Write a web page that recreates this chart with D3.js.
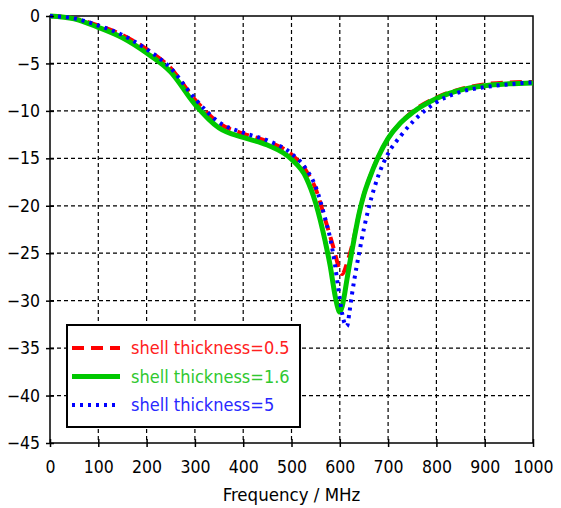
<!DOCTYPE html>
<html>
<head>
<meta charset="utf-8">
<script src="https://cdn.jsdelivr.net/npm/d3@7"></script>
<style>
  body { margin: 0; background: #fff; }
  text { font-family: "DejaVu Sans Condensed", "DejaVu Sans", sans-serif; }
</style>
</head>
<body>
<div id="chart"></div>
<script>
const freq = [0, 50, 100, 150, 200, 250, 300, 350, 400, 450, 500, 530, 550, 570, 580, 590, 595, 600, 605, 610, 615, 620, 625, 630, 640, 650, 660, 680, 700, 725, 750, 800, 850, 900, 950, 1000]
const thick05 = [0, -0.25, -1.0, -2.0, -3.5, -5.5, -8.8, -11.3, -12.4, -13.2, -14.6, -16.3, -18.2, -21.5, -23.2, -25.0, -26.0, -26.9, -27.2, -26.8, -26.0, -25.2, -24.3, -23.2, -20.8, -18.8, -17.3, -14.8, -12.9, -11.3, -10.1, -8.6, -7.7, -7.2, -7.0, -6.95]
const thick16 = [0, -0.3, -1.2, -2.3, -3.9, -5.9, -9.3, -11.8, -12.8, -13.6, -15.1, -17.0, -19.7, -23.8, -26.3, -29.4, -30.6, -31.2, -30.6, -29.3, -27.7, -26.2, -24.8, -23.4, -20.8, -18.8, -17.3, -14.8, -12.9, -11.3, -10.2, -8.7, -7.8, -7.35, -7.15, -7.05]
const thick5 = [0, -0.25, -1.0, -2.0, -3.5, -5.5, -8.7, -11.2, -12.3, -13.1, -14.5, -16.1, -18.0, -21.4, -23.4, -26.2, -28.0, -29.8, -31.4, -32.4, -32.7, -31.2, -29.4, -27.8, -25.0, -22.4, -20.2, -16.8, -14.5, -12.7, -11.2, -9.1, -8.0, -7.5, -7.2, -7.0]
const xTicks = [0, 100, 200, 300, 400, 500, 600, 700, 800, 900, 1000]
const yTicks = [0, -5, -10, -15, -20, -25, -30, -35, -40, -45]
const seriesNames = ['shell thickness=0.5', 'shell thickness=1.6', 'shell thickness=5']

const width = 561
const height = 508
const plotLeft = 50, plotRight = 533, plotTop = 16, plotBottom = 443

const series = [
  { name: seriesNames[0], values: thick05, color: '#ff0000', text: '#ff2020', w: 4, dash: '12,7' },
  { name: seriesNames[1], values: thick16, color: '#00c800', text: '#30c830', w: 5, dash: null },
  { name: seriesNames[2], values: thick5, color: '#0000ff', text: '#2828ff', w: 4, dash: '3,5' }
]

const svg = d3.select('#chart').append('svg')
  .attr('width', width)
  .attr('height', height)

const xScale = d3.scaleLinear().domain([0, 1000]).range([plotLeft, plotRight])
const yScale = d3.scaleLinear().domain([-45, 0]).range([plotBottom, plotTop])

// grid
const grid = svg.append('g')
grid.selectAll('.vg')
  .data(xTicks.slice(1, -1))
  .enter().append('line')
  .attr('x1', d => xScale(d)).attr('x2', d => xScale(d))
  .attr('y1', plotTop).attr('y2', plotBottom)
  .attr('stroke', '#000').attr('stroke-width', 1.2).attr('stroke-dasharray', '4,3')
grid.selectAll('.hg')
  .data(yTicks.slice(1, -1))
  .enter().append('line')
  .attr('y1', d => yScale(d)).attr('y2', d => yScale(d))
  .attr('x1', plotLeft).attr('x2', plotRight)
  .attr('stroke', '#000').attr('stroke-width', 1.2).attr('stroke-dasharray', '4,3')

// frame
svg.append('rect')
  .attr('x', plotLeft).attr('y', plotTop)
  .attr('width', plotRight - plotLeft).attr('height', plotBottom - plotTop)
  .attr('fill', 'none').attr('stroke', '#000').attr('stroke-width', 1.5)

// curves
const line = d3.line()
  .x((d, i) => xScale(freq[i]))
  .y(d => yScale(d))
  .curve(d3.curveMonotoneX)

series.forEach(s => {
  svg.append('path')
    .attr('d', line(s.values))
    .attr('fill', 'none')
    .attr('stroke', s.color)
    .attr('stroke-width', s.w)
    .attr('stroke-dasharray', s.dash)
})

// axes
const xAxis = d3.axisBottom(xScale).tickValues(xTicks).tickFormat(d3.format('d')).tickSize(4).tickPadding(14)
const gx = svg.append('g')
  .attr('transform', 'translate(0,' + plotBottom + ')')
  .call(xAxis)
gx.select('.domain').remove()
gx.selectAll('.tick line').attr('y1', -4).attr('y2', 4)
gx.selectAll('text').attr('font-size', 17.5).attr('fill', '#000')

const yAxis = d3.axisLeft(yScale).tickValues(yTicks).tickSize(4).tickPadding(6)
const gy = svg.append('g')
  .attr('transform', 'translate(' + plotLeft + ',0)')
  .call(yAxis)
gy.select('.domain').remove()
gy.selectAll('.tick line').attr('x1', -4).attr('x2', 4)
gy.selectAll('text').attr('font-size', 17.5).attr('fill', '#000')
svg.selectAll('.tick line').attr('stroke', '#000').attr('stroke-width', 1.5)

svg.append('text')
  .attr('x', (plotLeft + plotRight) / 2)
  .attr('y', 501)
  .attr('text-anchor', 'middle')
  .attr('font-size', 18.5)
  .text('Frequency / MHz')

// legend
const legend = svg.append('g')
legend.append('rect')
  .attr('x', 67).attr('y', 325)
  .attr('width', 233).attr('height', 102)
  .attr('fill', '#fff').attr('stroke', '#000').attr('stroke-width', 2)

series.forEach((s, i) => {
  const y = 348 + i * 28.5
  legend.append('line')
    .attr('x1', 72).attr('x2', 120)
    .attr('y1', y).attr('y2', y)
    .attr('stroke', s.color)
    .attr('stroke-width', s.w)
    .attr('stroke-dasharray', s.dash)
  legend.append('text')
    .attr('x', 131).attr('y', y + 6)
    .attr('font-size', 18)
    .attr('fill', s.text)
    .text(s.name)
})
</script>
</body>
</html>
